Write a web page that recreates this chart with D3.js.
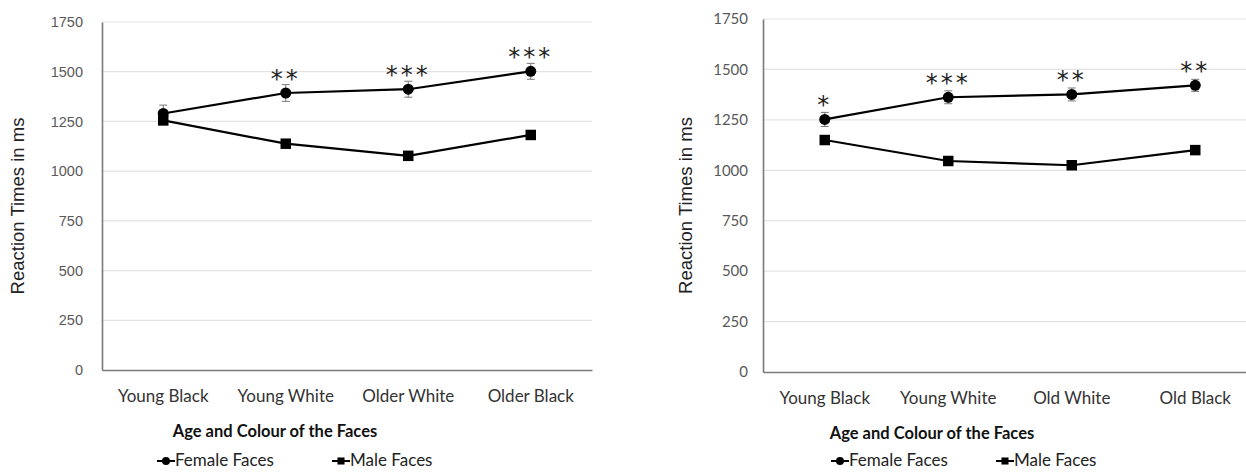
<!DOCTYPE html>
<html>
<head>
<meta charset="utf-8">
<script src="https://cdn.jsdelivr.net/npm/d3@7"></script>
<style>
  body { margin: 0; background: #fff; }
  svg { display: block; }
</style>
</head>
<body>
<script>
// two panels, same structure, different category names on the right
var leftCategories = ["Young Black", "Young White", "Older White", "Older Black"];
var rightCategories = ["Young Black", "Young White", "Old White", "Old Black"];

var leftFemale = [1290, 1393, 1412, 1502];
var leftFemaleErr = [42, 42, 40, 40];
var leftMale = [1255, 1138, 1077, 1182];
var leftMaleErr = [20, 15, 15, 15];
var leftStars = ["", "**", "***", "***"];

var rightFemale = [1252, 1362, 1376, 1421];
var rightFemaleErr = [35, 32, 32, 30];
var rightMale = [1150, 1046, 1025, 1100];
var rightMaleErr = [18, 15, 15, 15];
var rightStars = ["*", "***", "**", "**"];

var yTicks = [0, 250, 500, 750, 1000, 1250, 1500, 1750];
var seriesNames = ["Female Faces", "Male Faces"];

var width = 1246, height = 473;

var svg = d3.select("body").append("svg")
    .attr("width", width)
    .attr("height", height);

function drawPanel(opt) {
    var x = d3.scaleBand()
        .domain(opt.categories)
        .range([opt.left, opt.right]);

    var y = d3.scaleLinear()
        .domain([0, 1750])
        .range([opt.bottom, opt.top]);

    var g = svg.append("g");

    // gridlines
    g.append("g")
        .selectAll("line")
        .data(yTicks.filter(function(d) { return d > 0; }))
        .enter().append("line")
        .attr("x1", opt.left)
        .attr("x2", opt.right)
        .attr("y1", function(d) { return y(d); })
        .attr("y2", function(d) { return y(d); })
        .style("stroke", "#e3e3e3")
        .style("stroke-width", "1.2px");

    // axes
    var yAxis = g.append("g")
        .attr("transform", "translate(" + opt.left + ",0)")
        .call(d3.axisLeft(y).tickValues(yTicks).tickFormat(d3.format("d")).tickSize(0).tickPadding(opt.tickPad));
    yAxis.select(".domain").style("stroke", "#7a7a7a").style("stroke-width", "1.6px");
    yAxis.selectAll("text")
        .style("font-family", opt.tickFont)
        .style("font-size", opt.tickSize)
        .style("fill", "#595959");

    var xAxis = g.append("g")
        .attr("transform", "translate(0," + opt.bottom + ")")
        .call(d3.axisBottom(x).tickSize(0).tickPadding(20));
    xAxis.select(".domain").style("stroke", "#7a7a7a").style("stroke-width", "1.6px");
    xAxis.selectAll("text")
        .style("font-family", "Lato, 'Open Sans', sans-serif")
        .style("font-size", "17px")
        .style("fill", "#333");

    var line = d3.line()
        .x(function(d, i) { return x(opt.categories[i]) + x.bandwidth() / 2; })
        .y(function(d) { return y(d); });

    var series = [
        { vals: opt.female, err: opt.femaleErr, shape: "circle" },
        { vals: opt.male, err: opt.maleErr, shape: "square" }
    ];

    series.forEach(function(s) {
        // error bars
        var eb = g.append("g").selectAll("g")
            .data(s.vals)
            .enter().append("g")
            .style("stroke", "#777")
            .style("stroke-width", "1px");
        eb.append("line")
            .attr("x1", function(d, i) { return x(opt.categories[i]) + x.bandwidth() / 2; })
            .attr("x2", function(d, i) { return x(opt.categories[i]) + x.bandwidth() / 2; })
            .attr("y1", function(d, i) { return y(d - s.err[i]); })
            .attr("y2", function(d, i) { return y(d + s.err[i]); });
        eb.append("line")
            .attr("x1", function(d, i) { return x(opt.categories[i]) + x.bandwidth() / 2 - 4; })
            .attr("x2", function(d, i) { return x(opt.categories[i]) + x.bandwidth() / 2 + 4; })
            .attr("y1", function(d, i) { return y(d + s.err[i]); })
            .attr("y2", function(d, i) { return y(d + s.err[i]); });
        eb.append("line")
            .attr("x1", function(d, i) { return x(opt.categories[i]) + x.bandwidth() / 2 - 4; })
            .attr("x2", function(d, i) { return x(opt.categories[i]) + x.bandwidth() / 2 + 4; })
            .attr("y1", function(d, i) { return y(d - s.err[i]); })
            .attr("y2", function(d, i) { return y(d - s.err[i]); });

        g.append("path")
            .datum(s.vals)
            .attr("d", line)
            .style("fill", "none")
            .style("stroke", "#000")
            .style("stroke-width", "2.2px");

        g.append("g").selectAll("path")
            .data(s.vals)
            .enter().append("path")
            .attr("transform", function(d, i) {
                return "translate(" + (x(opt.categories[i]) + x.bandwidth() / 2) + "," + y(d) + ")";
            })
            .attr("d", s.shape == "circle"
                ? d3.symbol().type(d3.symbolCircle).size(95)()
                : d3.symbol().type(d3.symbolSquare).size(110)())
            .style("fill", "#000");
    });

    // significance stars above female points
    g.append("g").selectAll("text")
        .data(opt.stars)
        .enter().append("text")
        .attr("x", function(d, i) { return x(opt.categories[i]) + x.bandwidth() / 2; })
        .attr("y", function(d, i) { return y(opt.female[i]) - 6; })
        .attr("text-anchor", "middle")
        .style("font-family", "'DejaVu Sans', sans-serif")
        .style("font-size", "24px")
        .style("letter-spacing", "3px")
        .style("fill", "#222")
        .text(function(d) { return d; });

    // axis titles
    svg.append("text")
        .attr("transform", "translate(" + opt.yTitleX + "," + ((opt.top + opt.bottom) / 2 + 10) + ") rotate(-90)")
        .attr("text-anchor", "middle")
        .style("font-family", "'Liberation Sans', Arial, sans-serif")
        .style("font-size", "18.5px")
        .style("fill", "#222")
        .text("Reaction Times in ms");

    svg.append("text")
        .attr("x", opt.xTitleX)
        .attr("y", opt.bottom + 67)
        .attr("text-anchor", "middle")
        .style("font-family", "Lato, 'Open Sans', sans-serif")
        .style("font-weight", "bold")
        .style("font-size", "16.5px")
        .style("fill", "#111")
        .text("Age and Colour of the Faces");

    // legend
    var lg = svg.append("g")
        .attr("transform", "translate(0," + opt.legendY + ")");
    seriesNames.forEach(function(name, i) {
        var lx = opt.legendX[i];
        lg.append("line")
            .attr("x1", lx).attr("x2", lx + 18)
            .attr("y1", 0).attr("y2", 0)
            .style("stroke", "#000").style("stroke-width", "2px");
        lg.append("path")
            .attr("transform", "translate(" + (lx + 9) + ",0)")
            .attr("d", i == 0
                ? d3.symbol().type(d3.symbolCircle).size(50)()
                : d3.symbol().type(d3.symbolSquare).size(50)())
            .style("fill", "#000");
        lg.append("text")
            .attr("x", lx + 18)
            .attr("y", 5)
            .style("font-family", "Lato, 'Open Sans', sans-serif")
            .style("font-size", "17px")
            .style("fill", "#222")
            .text(name);
    });
}

drawPanel({
    categories: leftCategories,
    female: leftFemale, femaleErr: leftFemaleErr,
    male: leftMale, maleErr: leftMaleErr,
    stars: leftStars,
    left: 102, right: 592, top: 22, bottom: 370,
    tickFont: "'Liberation Sans', Arial, sans-serif", tickSize: "14.5px", tickPad: 19,
    yTitleX: 24, xTitleX: 275, legendY: 461, legendX: [157, 332]
});

drawPanel({
    categories: rightCategories,
    female: rightFemale, femaleErr: rightFemaleErr,
    male: rightMale, maleErr: rightMaleErr,
    stars: rightStars,
    left: 763, right: 1257, top: 19, bottom: 372,
    tickFont: "Lato, 'Open Sans', sans-serif", tickSize: "15px", tickPad: 15,
    yTitleX: 692, xTitleX: 932, legendY: 461, legendX: [831, 996]
});
</script>
</body>
</html>
